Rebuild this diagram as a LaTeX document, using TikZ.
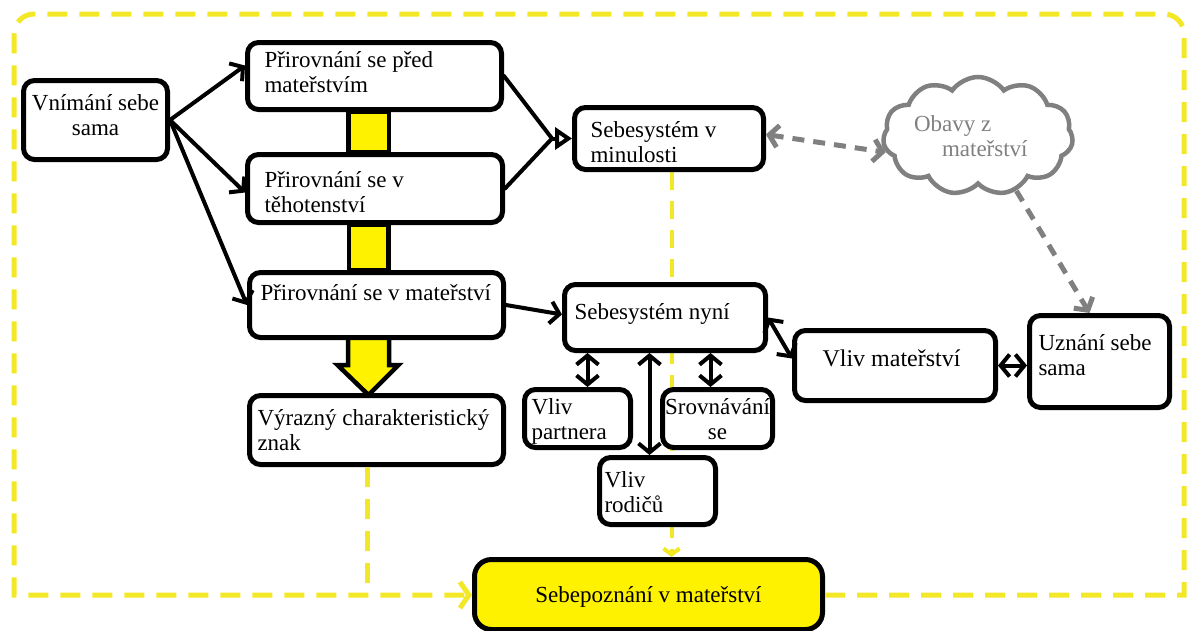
\documentclass[tikz,border=0pt]{standalone}
\usepackage{fontspec}
\setmainfont{Liberation Serif}
\usetikzlibrary{arrows.meta,shapes.symbols,calc}
\pgfdeclarelayer{bg}
\pgfsetlayers{bg,main}

\definecolor{frameyel}{RGB}{242,232,40}
\definecolor{fillyel}{RGB}{255,242,0}
\definecolor{cloudgray}{RGB}{128,128,128}

% text block of fixed size: width, height, first baseline, alignment, text
\newcommand\boxtext[5]{\parbox[c][#2pt][t]{#1pt}{#4\rule{0pt}{#3pt}#5}}

\tikzset{
  >={Straight Barb[length=9pt,width=22pt]},
  every node/.style={font=\fontsize{23}{25}\selectfont},
  box/.style={draw=black, line width=5pt, rounded corners=11pt, fill=white,
              inner sep=0pt, anchor=north west},
  link/.style={line width=4pt, black, line cap=round},
  graylink/.style={line width=5pt, cloudgray, dash pattern=on 12pt off 9pt},
  frame/.style={line width=5pt, frameyel, dash pattern=on 20pt off 12pt},
  bar/.style={fill=fillyel, draw=black, line width=4.5pt, line join=miter},
}

\begin{document}
\begin{tikzpicture}[x=1pt, y=-1pt]
\useasboundingbox (0,0) rectangle (1191,630);
\begin{pgfonlayer}{bg}
\fill[white] (0,0) rectangle (1191,630);
\end{pgfonlayer}

% boxes
\node[box] (vnim) at (21,78) {\boxtext{144}{79}{30}{\centering}{Vnímání sebe\\sama}};
\node[box] (pred) at (245,40) {\boxtext{254}{67}{25}{\raggedright\leftskip=17pt}{Přirovnání se před\\mateřstvím}};
\node[box] (teh) at (245,152) {\boxtext{255}{68}{33}{\raggedright\leftskip=17pt}{Přirovnání se v\\těhotenství}};
\node[box] (mat) at (247,270) {\boxtext{254}{65}{28}{\raggedright\leftskip=11pt}{Přirovnání se v mateřství}};
\node[box] (vyr) at (247,393) {\boxtext{254}{69}{30}{\raggedright\leftskip=8pt}{Výrazný charakteristický\\znak}};
\node[box] (minul) at (572,105) {\boxtext{189}{62}{30}{\raggedright\leftskip=16pt}{Sebesystém v\\minulosti}};
\node[box] (nyni) at (562,282) {\boxtext{201}{66}{35}{\raggedright\leftskip=10pt}{Sebesystém nyní}};
\node[box] (partnera) at (522,387) {\boxtext{106}{58}{25}{\raggedright\leftskip=7pt}{Vliv\\partnera}};
\node[box] (srov) at (660,387) {\boxtext{110}{58}{25}{\centering}{Srovnávání\\se}};
\node[box] (rodicu) at (597,455) {\boxtext{116}{67}{30}{\raggedright\leftskip=5pt}{Vliv\\rodičů}};
\node[box, font=\fontsize{24}{26}\selectfont] (vlivmat) at (792,328)
  {\boxtext{201}{70}{36}{\raggedright\leftskip=28pt}{Vliv mateřství}};
\node[box] (uznani) at (1027,313) {\boxtext{140}{92}{35}{\raggedright\leftskip=9pt}{Uznání sebe\\sama}};
\node[box, fill=fillyel, rounded corners=17pt] (sebepoz) at (472,557)
  {\boxtext{348}{70}{43}{\centering}{Sebepoznání v mateřství}};

% cloud
\node[cloud, cloud puffs=11, cloud puff arc=110, cloud ignores aspect,
      draw=cloudgray, line width=4.5pt, fill=white, minimum width=190pt,
      minimum height=118pt, inner sep=0pt, text=cloudgray] (cloud) at (978,136)
  {\parbox{128pt}{\raggedright Obavy z\\\hspace*{28pt}mateřství}};

% yellow bars, block arrow and the dashed line that run behind the boxes
\begin{pgfonlayer}{bg}
\draw[bar] ($(pred.south)+(-26,0)$) rectangle ($(teh.north)+(14,0)$);
\draw[bar] ($(teh.south)+(-26,0)$) rectangle ($(mat.north)+(12,0)$);
\coordinate (ba) at ($(mat.south)+(-8,0)$);
\draw[bar] ($(ba)+(-20.5,-3)$) -- ($(ba)+(-20.5,25)$) -- ($(ba)+(-31,25)$)
  -- ($(ba)+(0,55)$) -- ($(ba)+(30,25)$) -- ($(ba)+(20.5,25)$)
  -- ($(ba)+(20.5,-3)$) -- cycle;
\coordinate (dl) at ([xshift=2.5pt]minul.south);
\draw[frame, line width=4pt, dash pattern=on 18pt off 11pt,
      -{Straight Barb[length=6pt,width=16pt]}] (dl) -- (dl |- sebepoz.north);
\end{pgfonlayer}

% outer dashed frame
\coordinate (fb) at (14,595);
\draw[frame, -{Straight Barb[length=9pt,width=26pt]}]
  (sebepoz.east |- fb) -- (1184,595) -- (1184,34)
  arc[start angle=0, end angle=-90, radius=20] -- (34,14)
  arc[start angle=-90, end angle=-180, radius=20] -- (fb)
  -- (sebepoz.west |- fb);
\coordinate (vs) at ([xshift=-9pt]vyr.south);
\draw[frame] (vs) -- (vs |- fb);

% connectors from the self-perception box
\draw[link,->] (vnim.east) -- ([yshift=10.5pt]pred.west);
\draw[link,->] (vnim.east) -- ([yshift=-4pt]teh.west);
\draw[link,->] (vnim.east) -- (mat.west);

% converging lines into the past self-system
\coordinate (join) at ($(minul.west)+(-20,0)$);
\draw[link] (pred.east) -- (join);
\draw[link] (teh.east) -- (join);
\draw[link, line cap=butt, -{Triangle[open,length=17pt,width=22pt]}] (join) -- (minul.west);

% present self-system links
\draw[link,->] (mat.east) -- ([yshift=3pt]nyni.west);
\coordinate (pa) at ([xshift=10pt]partnera.north);
\draw[link,<->] (pa |- nyni.south) -- (pa);
\coordinate (sa) at ([xshift=-7pt]srov.north);
\draw[link,<->] (sa |- nyni.south) -- (sa);
\coordinate (ra) at ([xshift=-8pt]rodicu.north);
\draw[link,<->] (ra |- nyni.south) -- (ra);
\draw[link,<->] (nyni.east) -- ([yshift=7pt]vlivmat.west);
\draw[link,<->] (vlivmat.east) -- (vlivmat.east -| uznani.west);

% worries about motherhood
\draw[graylink,<->] ([yshift=4pt]minul.east) -- (cloud.190);
\draw[graylink,->] (cloud.-55) -- ([xshift=-10pt]uznani.north);
\end{tikzpicture}
\end{document}
